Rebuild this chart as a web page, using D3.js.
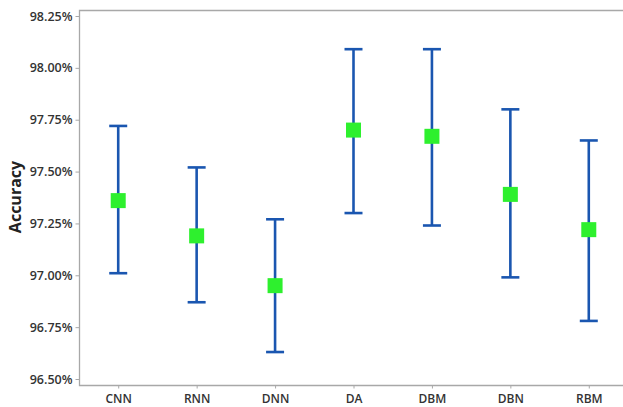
<!DOCTYPE html>
<html>
<head>
<meta charset="utf-8">
<script src="https://cdn.jsdelivr.net/npm/d3@7"></script>
<style>
  body { margin: 0; background: #fff; }
  text { font-family: "Open Sans", "Noto Sans", sans-serif; }
</style>
</head>
<body>
<div id="chart"></div>
<script>
// model names and interval values (accuracy %)
const models = ['CNN', 'RNN', 'DNN', 'DA', 'DBM', 'DBN', 'RBM'];
const means  = [97.36, 97.19, 96.95, 97.70, 97.67, 97.39, 97.22];
const upper  = [97.72, 97.52, 97.27, 98.09, 98.09, 97.80, 97.65];
const lower  = [97.01, 96.87, 96.63, 97.30, 97.24, 96.99, 96.78];
const yTicks = [96.50, 96.75, 97.00, 97.25, 97.50, 97.75, 98.00, 98.25];

const width = 623, height = 407;
const plotLeft = 79, plotTop = 10, plotBottom = 385, plotRight = 628;

const svg = d3.select('#chart').append('svg')
  .attr('width', width)
  .attr('height', height);

const x = d3.scalePoint()
  .domain(models)
  .range([plotLeft, plotRight])
  .padding(0.5);

const y = d3.scaleLinear()
  .domain([96.5, 98.25])
  .range([379, 16]);

const axisColour = '#a8a8a8';

// frame (top + left + bottom)
svg.append('path')
  .attr('d', `M${width + 5},${plotTop + 0.5}H${plotLeft + 0.5}V${plotBottom + 0.5}H${width + 5}`)
  .attr('fill', 'none')
  .attr('stroke', axisColour)
  .attr('stroke-width', 1.3);

// y axis
const yAxis = svg.append('g')
  .attr('transform', `translate(${plotLeft + 0.5},0)`)
  .call(d3.axisLeft(y).tickValues(yTicks).tickSize(4).tickPadding(3)
    .tickFormat(d => d.toFixed(2) + '%'));
yAxis.select('.domain').remove();
yAxis.selectAll('line').attr('stroke', axisColour);
yAxis.selectAll('text')
  .attr('fill', '#333')
  .attr('font-size', 12.5)
  .attr('font-weight', 600);

// x axis
const xAxis = svg.append('g')
  .attr('transform', `translate(0,${plotBottom + 0.5})`)
  .call(d3.axisBottom(x).tickSize(3).tickPadding(6));
xAxis.select('.domain').remove();
xAxis.selectAll('line').attr('stroke', axisColour);
xAxis.selectAll('text')
  .attr('fill', '#333')
  .attr('font-size', 12)
  .attr('font-weight', 600);

// y label
svg.append('text')
  .attr('transform', 'translate(21,197) rotate(-90)')
  .attr('text-anchor', 'middle')
  .attr('font-size', 16)
  .attr('font-weight', 700)
  .attr('fill', '#222')
  .text('Accuracy');

const data = models.map((m, i) => ({ m, mean: means[i], hi: upper[i], lo: lower[i] }));
const blue = '#1a56b0';
const capW = 18;

const g = svg.append('g');
const bars = g.selectAll('g.bar').data(data).join('g').attr('class', 'bar');

bars.append('line')
  .attr('x1', d => x(d.m)).attr('x2', d => x(d.m))
  .attr('y1', d => y(d.hi)).attr('y2', d => y(d.lo))
  .attr('stroke', blue).attr('stroke-width', 2.6);

bars.append('line')
  .attr('x1', d => x(d.m) - capW / 2).attr('x2', d => x(d.m) + capW / 2)
  .attr('y1', d => y(d.hi)).attr('y2', d => y(d.hi))
  .attr('stroke', blue).attr('stroke-width', 2.6);

bars.append('line')
  .attr('x1', d => x(d.m) - capW / 2).attr('x2', d => x(d.m) + capW / 2)
  .attr('y1', d => y(d.lo)).attr('y2', d => y(d.lo))
  .attr('stroke', blue).attr('stroke-width', 2.6);

const sq = 15;
bars.append('rect')
  .attr('x', d => x(d.m) - sq / 2)
  .attr('y', d => y(d.mean) - sq / 2)
  .attr('width', sq).attr('height', sq)
  .attr('fill', '#2ef02e');
</script>
</body>
</html>
